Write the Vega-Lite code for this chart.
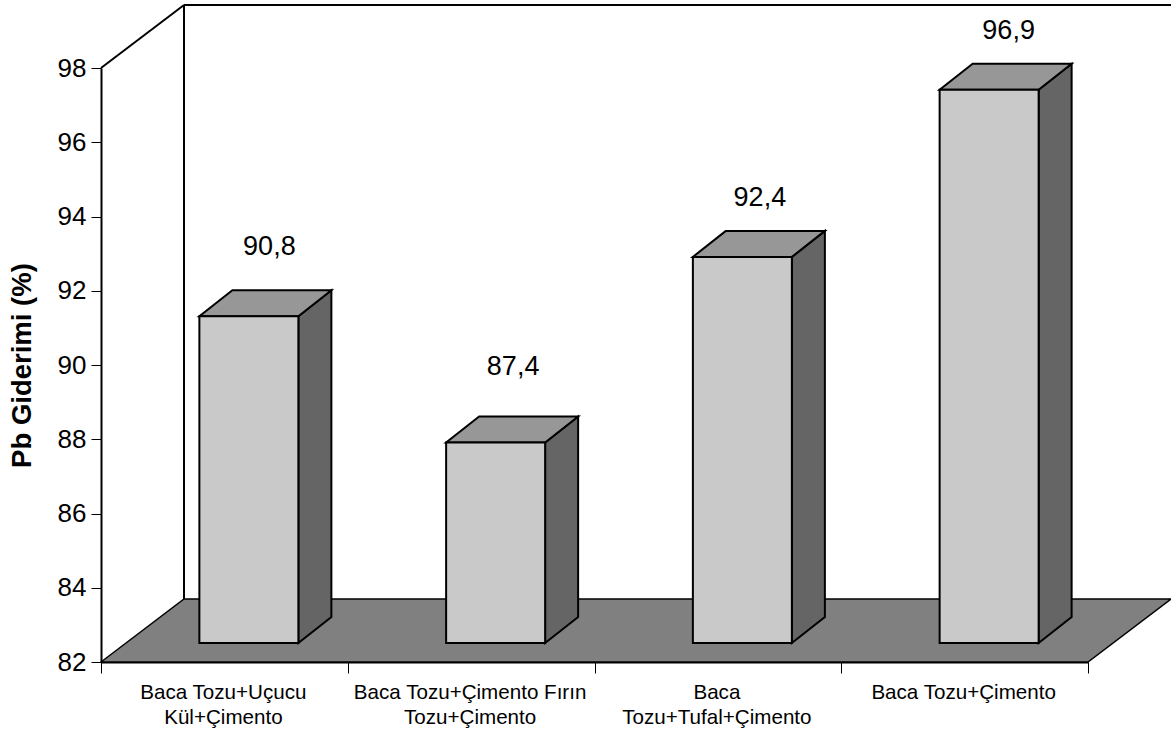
{
  "$schema": "https://vega.github.io/schema/vega-lite/v6.json",
  "width": 987,
  "height": 594,
  "autosize": {"type": "none"},
  "padding": {"left": 101, "top": 68, "right": 83, "bottom": 68},
  "background": "white",
  "config": {"view": {"stroke": null}, "font": "Liberation Sans"},
  "datasets": {
    "bars": [
      {"category": "Baca Tozu+Uçucu\nKül+Çimento", "value": 90.8, "label": "90,8"},
      {"category": "Baca Tozu+Çimento Fırın\nTozu+Çimento", "value": 87.4, "label": "87,4"},
      {"category": "Baca\nTozu+Tufal+Çimento", "value": 92.4, "label": "92,4"},
      {"category": "Baca Tozu+Çimento", "value": 96.9, "label": "96,9"}
    ],
    "depth": [{"edge": "front"}, {"edge": "back"}]
  },
  "layer": [
    {
      "description": "Back wall: left slanted edge",
      "data": {"name": "depth"},
      "mark": {"type": "line", "stroke": "black", "strokeWidth": 2, "xOffset": {"expr": "datum.edge === 'back' ? -40.375 : -123.375"}, "yOffset": {"expr": "datum.edge === 'back' ? -63 : 0"}},
      "encoding": {
        "x": {"datum": "Baca Tozu+Uçucu\nKül+Çimento", "type": "nominal"},
        "y": {"datum": 98, "type": "quantitative"}
      }
    },
    {
      "description": "Back wall: vertical edge",
      "data": {"values": [{"edge": "back"}]},
      "mark": {"type": "rule", "stroke": "black", "strokeWidth": 2, "xOffset": -40.375, "yOffset": -63, "y2Offset": -63},
      "encoding": {
        "x": {"datum": "Baca Tozu+Uçucu\nKül+Çimento", "type": "nominal"},
        "y": {"datum": 82, "type": "quantitative"},
        "y2": {"datum": 98}
      }
    },
    {
      "description": "Back wall: top edge",
      "data": {"values": [{"edge": "back"}]},
      "mark": {"type": "rule", "stroke": "black", "strokeWidth": 2, "xOffset": -40.375, "x2Offset": 206.375, "yOffset": -63},
      "encoding": {
        "x": {"datum": "Baca Tozu+Uçucu\nKül+Çimento", "type": "nominal"},
        "x2": {"datum": "Baca Tozu+Çimento"},
        "y": {"datum": 98, "type": "quantitative"}
      }
    },
    {
      "description": "Floor of the chart box",
      "data": {"name": "depth"},
      "mark": {"type": "area", "orient": "horizontal", "fill": "#808080", "stroke": "black", "strokeWidth": 1.5, "xOffset": {"expr": "datum.edge === 'back' ? -40.375 : -123.375"}, "x2Offset": {"expr": "datum.edge === 'back' ? 206.375 : 123.375"}, "yOffset": {"expr": "datum.edge === 'back' ? -63 : 0"}},
      "encoding": {
        "x": {"datum": "Baca Tozu+Uçucu\nKül+Çimento", "type": "nominal"},
        "x2": {"datum": "Baca Tozu+Çimento"},
        "y": {"datum": 82, "type": "quantitative"}
      }
    },
    {
      "description": "Right side face of each bar",
      "data": {"name": "bars"},
      "transform": [{"fold": ["front", "back"], "as": ["edge", "unused"]}],
      "mark": {"type": "area", "fill": "#656565", "stroke": "black", "strokeWidth": 2, "xOffset": {"expr": "datum.edge === 'back' ? 107 : 74"}, "yOffset": {"expr": "datum.edge === 'back' ? -45 : -19"}, "y2Offset": {"expr": "datum.edge === 'back' ? -45 : -19"}},
      "encoding": {
        "x": {"field": "category", "type": "nominal"},
        "y": {"field": "value", "type": "quantitative", "stack": null},
        "y2": {"datum": 82},
        "detail": {"field": "category"}
      }
    },
    {
      "description": "Top face of each bar",
      "data": {"name": "bars"},
      "transform": [{"fold": ["front", "back"], "as": ["edge", "unused"]}],
      "mark": {"type": "area", "orient": "horizontal", "fill": "#979797", "stroke": "black", "strokeWidth": 2, "xOffset": {"expr": "datum.edge === 'back' ? 8 : -25"}, "x2Offset": {"expr": "datum.edge === 'back' ? 107 : 74"}, "yOffset": {"expr": "datum.edge === 'back' ? -45 : -19"}},
      "encoding": {
        "x": {"field": "category", "type": "nominal"},
        "x2": {"field": "category"},
        "y": {"field": "value", "type": "quantitative", "stack": null},
        "detail": {"field": "category"}
      }
    },
    {
      "description": "Front face of each bar, carrying the axes",
      "data": {"name": "bars"},
      "mark": {"type": "bar", "width": 99, "fill": "#c9c9c9", "stroke": "black", "strokeWidth": 2, "xOffset": 24.5, "yOffset": -19, "y2Offset": -19},
      "encoding": {
        "x": {
          "field": "category",
          "type": "nominal",
          "scale": {
            "domain": ["Baca Tozu+Uçucu\nKül+Çimento", "Baca Tozu+Çimento Fırın\nTozu+Çimento", "Baca\nTozu+Tufal+Çimento", "Baca Tozu+Çimento"],
            "paddingInner": 0,
            "paddingOuter": 0
          },
          "axis": {
            "title": null,
            "orient": "bottom",
            "labelAngle": 0,
            "labelAlign": "center",
            "labelExpr": "split(datum.label, '\\n')",
            "labelFontSize": 20.6,
            "labelLineHeight": 25,
            "labelColor": "black",
            "labelPadding": 19,
            "labelOffset": -1.5,
            "tickBand": "extent",
            "tickSize": 11,
            "tickColor": "black",
            "tickWidth": 1,
            "domainColor": "black",
            "domainWidth": 2,
            "labelLimit": 300
          }
        },
        "y": {
          "field": "value",
          "type": "quantitative",
          "stack": null,
          "scale": {"domain": [82, 98], "nice": false, "zero": false},
          "axis": {
            "title": "Pb Giderimi (%)",
            "titleFontSize": 27.5,
            "titleFontWeight": "bold",
            "titleColor": "black",
            "titlePadding": 21,
            "values": [82, 84, 86, 88, 90, 92, 94, 96, 98],
            "labelFontSize": 26,
            "labelColor": "black",
            "labelPadding": 5,
            "tickSize": 10,
            "tickColor": "black",
            "domainColor": "black",
            "domainWidth": 2,
            "grid": false
          }
        },
        "y2": {"datum": 82}
      }
    },
    {
      "description": "Value labels above the bars",
      "data": {"name": "bars"},
      "mark": {"type": "text", "font": "Liberation Sans", "fontSize": 27, "fill": "black", "xOffset": {"expr": "datum.value === 90.8 ? 45 : datum.value === 96.9 ? 44 : 42"}, "yOffset": {"expr": "datum.value > 92 ? -78 : datum.value > 90 ? -88 : -95"}},
      "encoding": {
        "x": {"field": "category", "type": "nominal"},
        "y": {"field": "value", "type": "quantitative"},
        "text": {"field": "label"}
      }
    }
  ]
}
